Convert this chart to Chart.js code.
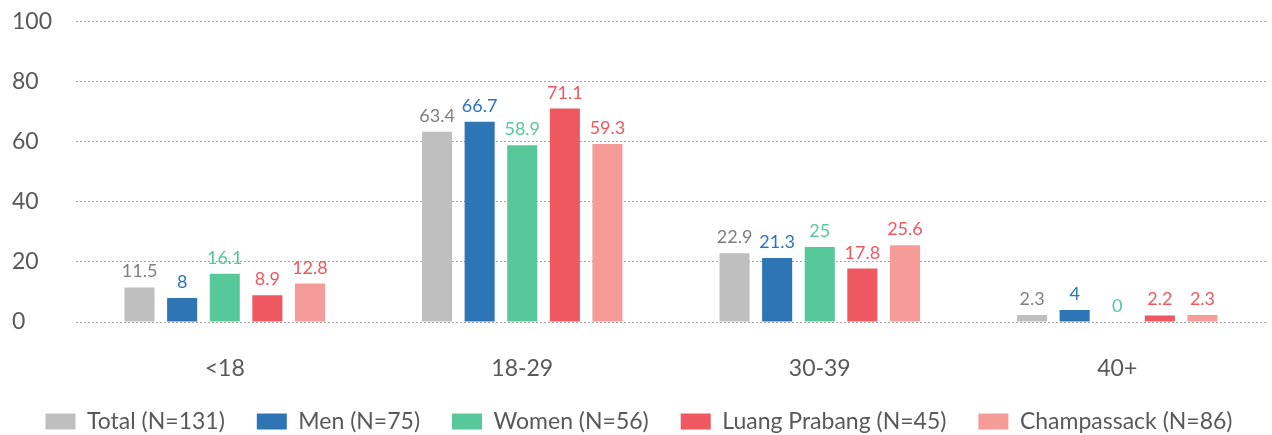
<!DOCTYPE html>
<html>
<head>
<meta charset="utf-8">
<script src="https://cdn.jsdelivr.net/npm/chart.js@4"></script>
<style>
  html, body { margin: 0; padding: 0; background: #fff; }
  #wrap { width: 1272px; height: 435px; position: relative; }
</style>
</head>
<body>
<div id="wrap"><canvas id="ageChart"></canvas></div>
<script>
// ====> data <====
const ageGroups = ["<18", "18-29", "30-39", "40+"];
const seriesNames = ["Total (N=131)", "Men (N=75)", "Women (N=56)", "Luang Prabang (N=45)", "Champassack (N=86)"];
const totalVals = [11.5, 63.4, 22.9, 2.3];
const menVals = [8, 66.7, 21.3, 4];
const womenVals = [16.1, 58.9, 25, 0];
const luangVals = [8.9, 71.1, 17.8, 2.2];
const champVals = [12.8, 59.3, 25.6, 2.3];
const yTicks = [0, 20, 40, 60, 80, 100];

const barColors = ["#BFBFBF", "#2E75B6", "#57C89A", "#EE5860", "#F59C98"];
const labelColors = ["#7F7F7F", "#2E75B6", "#57C89A", "#EE5860", "#EE5860"];
const fontFam = "Lato, 'Open Sans', sans-serif";

// draw value above each bar
const valueLabels = {
  id: "valueLabels",
  afterDatasetsDraw(chart) {
    const ctx = chart.ctx;
    ctx.save();
    ctx.font = "18px " + fontFam;
    ctx.textAlign = "center";
    ctx.textBaseline = "alphabetic";
    chart.data.datasets.forEach((ds, i) => {
      chart.getDatasetMeta(i).data.forEach((bar, j) => {
        ctx.fillStyle = labelColors[i];
        ctx.fillText(String(ds.data[j]), bar.x, bar.y - 10);
      });
    });
    ctx.restore();
  },
};

const allSeries = [totalVals, menVals, womenVals, luangVals, champVals];

new Chart("ageChart", {
  type: "bar",
  data: {
    labels: ageGroups,
    datasets: allSeries.map((vals, i) => ({
      label: seriesNames[i],
      data: vals,
      backgroundColor: barColors[i],
      categoryPercentage: 0.716,
      barPercentage: 0.706,
    })),
  },
  options: {
    responsive: true,
    maintainAspectRatio: false,
    animation: false,
    layout: { padding: { top: 0, left: 12, right: 6, bottom: -8 } },
    plugins: {
      legend: {
        position: "bottom",
        labels: {
          boxWidth: 30,
          boxHeight: 16,
          padding: 32,
          color: "#595959",
          font: { size: 23, family: fontFam },
        },
      },
      tooltip: { enabled: false },
    },
    scales: {
      y: {
        min: 0,
        max: 100,
        afterBuildTicks: (axis) => { axis.ticks = yTicks.map((v) => ({ value: v })); },
        ticks: {
          color: "#595959",
          font: { size: 23, family: fontFam },
          crossAlign: "far",
          padding: 8,
        },
        grid: { color: "#A6A6A6", lineWidth: 1, drawTicks: false },
        border: { display: false, dash: [2, 2] },
        afterFit: (axis) => { axis.width = 64; },
      },
      x: {
        ticks: {
          color: "#595959",
          font: { size: 23, family: fontFam },
          padding: 25,
        },
        grid: { display: false },
        border: { display: false },
        afterFit: (axis) => { axis.height = 56; },
      },
    },
  },
  plugins: [valueLabels],
});
</script>
</body>
</html>
